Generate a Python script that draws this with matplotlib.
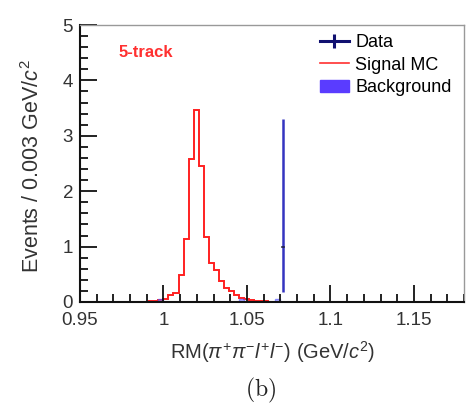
import numpy as np
import matplotlib
matplotlib.use("Agg")
import matplotlib.pyplot as plt
from matplotlib.ticker import MultipleLocator
from matplotlib.lines import Line2D
from matplotlib.patches import Patch

plt.rcParams['font.family'] = ['Liberation Sans', 'DejaVu Sans']
plt.rcParams['mathtext.fontset'] = 'custom'
plt.rcParams['mathtext.rm'] = 'Liberation Sans'
plt.rcParams['mathtext.it'] = 'Liberation Sans:italic'

# signal MC histogram (bin width 0.003)
sig_start = 0.991
sig_vals = [0.01, 0.02, 0.03, 0.06, 0.12, 0.17, 0.48, 1.13, 2.58, 3.47,
            2.45, 1.18, 0.71, 0.58, 0.37, 0.26, 0.19, 0.13, 0.08, 0.05,
            0.03, 0.02, 0.015, 0.01]
bw = 0.003

# background entries (bin left edge, height)
bkg_left = [0.997, 1.045, 1.067]
bkg_vals = [0.06, 0.06, 0.06]

# data
data_x = [1.0715]
data_y = [1.0]
data_lo = [0.827]
data_hi = [2.30]

sig_edges = sig_start + bw * np.arange(len(sig_vals) + 1)

fig = plt.figure(figsize=(4.69, 4.12), dpi=100)
ax = fig.add_axes([0.1706, 0.267, 0.8187, 0.6723])

ax.stairs(sig_vals, sig_edges, color='#ff2020', lw=1.4, baseline=None)
for l, h in zip(bkg_left, bkg_vals):
    ax.bar(l, h, width=bw, align='edge', color='#8080ff', alpha=0.6,
           edgecolor='#5050ff', lw=1.0)

ax.errorbar(data_x, data_y, yerr=[data_lo, data_hi], fmt='none',
            ecolor='#3434c0', elinewidth=1.8, capsize=0)
for x, y in zip(data_x, data_y):
    ax.plot([x - 0.0008, x + 0.0008], [y, y], color='#222244', lw=1.2)

ax.set_xlim(0.95, 1.18)
ax.set_ylim(0, 5)
ax.xaxis.set_major_locator(MultipleLocator(0.05))
ax.xaxis.set_minor_locator(MultipleLocator(0.01))
ax.yaxis.set_major_locator(MultipleLocator(1))
ax.yaxis.set_minor_locator(MultipleLocator(0.2))
ax.set_xticks([0.95, 1.0, 1.05, 1.1, 1.15])
ax.set_xticklabels(['0.95', '1', '1.05', '1.1', '1.15'])
ax.tick_params(which='both', direction='in', top=False, right=False,
               colors='#111111', labelcolor='#333333', labelsize=13.5, width=1.3)
ax.tick_params(which='major', length=12)
ax.tick_params(which='minor', length=6)
ax.tick_params(axis='x', which='major', pad=7)
ax.tick_params(axis='y', which='major', pad=5)
for s in ['left', 'bottom']:
    ax.spines[s].set_linewidth(1.5)
    ax.spines[s].set_color('#111111')
for s in ['top', 'right']:
    ax.spines[s].set_linewidth(1.0)
    ax.spines[s].set_color('#999999')

ax.set_ylabel('Events / 0.003 GeV/$c^{2}$', fontsize=15.5, color='#333333')
ax.yaxis.set_label_coords(-0.095, 0.489)
ax.set_xlabel('RM($\\pi^{+}\\pi^{-}l^{+}l^{-}$) (GeV/$c^{2}$)', fontsize=14.5,
              color='#333333')
ax.xaxis.set_label_coords(0.503, -0.134)

ax.text(0.101, 0.9, '5-track', transform=ax.transAxes, color='#ff3030',
        fontsize=12, fontweight='bold', va='center', ha='left')

handles = [Line2D([0], [0], color='#101070', lw=2.2, marker='|',
                  markersize=10, markeredgewidth=2.2),
           Line2D([0], [0], color='#ff3030', lw=1.2),
           Patch(facecolor='#5a3cff', edgecolor='#5a3cff')]
ax.legend(handles, ['Data', 'Signal MC', 'Background'], loc='upper left',
          bbox_to_anchor=(0.625, 0.968), frameon=False, fontsize=13,
          handlelength=1.6, handletextpad=0.35, labelspacing=0.32,
          borderaxespad=0, borderpad=0)

fig.text(0.555, 0.053, r'$\mathrm{(b)}$', fontsize=17, math_fontfamily='cm',
         ha='center', va='center', color='#222222')

fig.savefig('out.png', dpi=100)
